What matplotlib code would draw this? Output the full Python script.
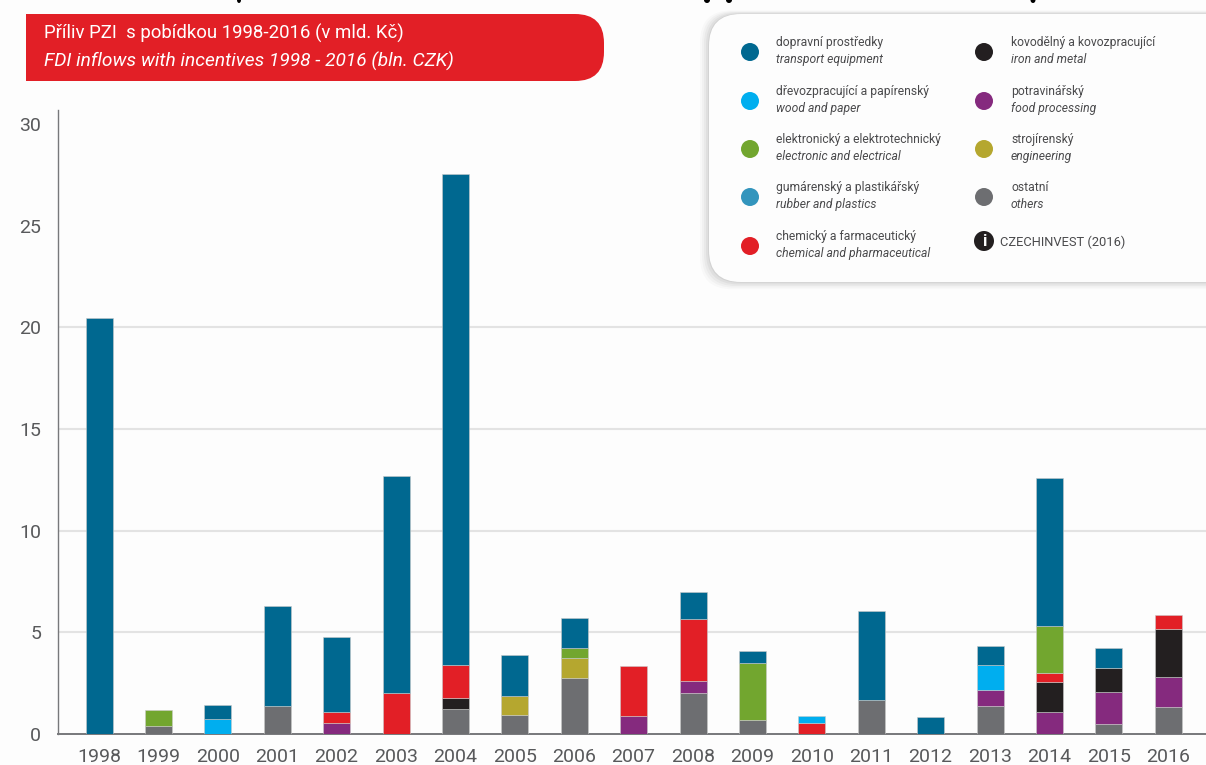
import matplotlib
matplotlib.use('Agg')
import numpy as np
import matplotlib.pyplot as plt
from matplotlib.patches import FancyBboxPatch, Circle, Rectangle, Ellipse

plt.rcParams['font.family'] = ['Roboto', 'DejaVu Sans']

W, H = 1206, 765

years = list(range(1998, 2017))

# mld. Kc per year, one list per sector
others    = [0, 0.40, 0, 1.37, 0, 0, 1.23, 0.93, 2.73, 0, 2.04, 0.70, 0, 1.67, 0, 1.39, 0, 0.51, 1.32]
food      = [0, 0, 0, 0, 0.55, 0, 0, 0, 0, 0.87, 0.56, 0, 0, 0, 0, 0.78, 1.08, 1.55, 1.47]
iron      = [0, 0, 0, 0, 0, 0, 0.55, 0, 0, 0, 0, 0, 0, 0, 0, 0, 1.50, 1.21, 2.36]
engineer  = [0, 0, 0, 0, 0, 0, 0, 0.92, 1.00, 0, 0, 0, 0, 0, 0, 0, 0, 0, 0]
chemical  = [0, 0, 0, 0, 0.51, 2.03, 1.62, 0, 0, 2.49, 3.04, 0, 0.54, 0, 0, 0, 0.42, 0, 0.70]
wood      = [0, 0, 0.75, 0, 0, 0, 0, 0, 0, 0, 0, 0, 0.36, 0, 0, 1.21, 0, 0, 0]
electro   = [0, 0.76, 0, 0, 0, 0, 0, 0, 0.52, 0, 0, 2.80, 0, 0, 0, 0, 2.32, 0, 0]
transport = [20.46, 0, 0.67, 4.93, 3.69, 10.67, 24.15, 2.02, 1.46, 0, 1.34, 0.60, 0, 4.38, 0.84, 0.97, 7.28, 0.96, 0]

stack = [others, food, iron, engineer, chemical, wood, electro, transport]
stack_colors = ['#6d6e71', '#852a7e', '#231f20', '#b5a72f', '#e21f26', '#00aeef', '#72a62f', '#006890']
grid_levels = [5, 10, 15, 20]

legend_left = [('dopravní prostředky', 'transport equipment', '#006890'),
               ('dřevozpracující a papírenský', 'wood and paper', '#00aeef'),
               ('elektronický a elektrotechnický', 'electronic and electrical', '#72a62f'),
               ('gumárenský a plastikářský', 'rubber and plastics', '#3395bd'),
               ('chemický a farmaceutický', 'chemical and pharmaceutical', '#e21f26')]
legend_right = [('kovodělný a kovozpracující', 'iron and metal', '#231f20'),
                ('potravinářský', 'food processing', '#852a7e'),
                ('strojírenský', 'engineering', '#b5a72f'),
                ('ostatní', 'others', '#6d6e71')]

fig = plt.figure(figsize=(W / 100, H / 100), dpi=100, facecolor='#fdfdfd')

# full-figure overlay in pixel coordinates, y pointing down
bg = fig.add_axes([0, 0, 1, 1], zorder=2)
bg.set_xlim(0, W)
bg.set_ylim(H, 0)
bg.axis('off')
bg.patch.set_alpha(0)

# chart axes: x=58..1206 px, y=734 (0) up to 110 px
ax = fig.add_axes([58 / W, 1 - 734 / H, (W - 58) / W, 624 / H], zorder=1)
ax.set_facecolor('none')
px_per_unit = 20.33
ax.set_ylim(0, 624 / px_per_unit)
slot = 59.4
ax.set_xlim((58 - 99) / slot, (W - 99) / slot)

x = np.arange(len(years))
bottom = np.zeros(len(years))
for vals, col in zip(stack, stack_colors):
    vals = np.array(vals)
    keep = vals > 0
    ax.bar(x[keep], vals[keep], bottom=bottom[keep], width=27 / slot, color=col,
           edgecolor='#c9c9c9', linewidth=0.4, zorder=3)
    bottom += vals

ax.set_yticks([0, 5, 10, 15, 20, 25, 30])
ax.set_xticks(x)
ax.set_xticklabels(years)
# the rules stop at 20, nothing is drawn at 25 and 30
ax.hlines(grid_levels, ax.get_xlim()[0], ax.get_xlim()[1], color='#e3e3e3', linewidth=1.5, zorder=0)
ax.tick_params(length=0, labelsize=14, labelcolor='#58595b')
ax.tick_params(axis='x', pad=10)
ax.tick_params(axis='y', pad=12)
for s in ['top', 'right']:
    ax.spines[s].set_visible(False)
ax.spines['left'].set_color('#77787b')
ax.spines['bottom'].set_color('#77787b')
ax.spines['left'].set_linewidth(1.0)
ax.spines['bottom'].set_linewidth(1.4)

# small black ends of a heading that runs off the top edge
for cx, cw in zip([239, 707, 729, 1033], [4, 6, 6, 5]):
    bg.add_patch(Ellipse((cx, 0), cw, 6, fc='black', ec='none', zorder=3))

# red title banner, square on the left, round on the right
bg.add_patch(FancyBboxPatch((0, 14), 604, 67, boxstyle='round,pad=0,rounding_size=29',
                            fc='#e21f26', ec='none', zorder=1))
bg.add_patch(Rectangle((26, 14), 60, 67, fc='#e21f26', ec='none', zorder=1))
bg.add_patch(Rectangle((0, 5), 26, 95, fc='#fdfdfd', ec='none', zorder=2))
bg.text(44, 33, 'Příliv PZI  s pobídkou 1998-2016 (v mld. Kč)', color='white', fontsize=13.4,
        va='center', zorder=3)
bg.text(44, 61, 'FDI inflows with incentives 1998 - 2016 (bln. CZK)', color='white', fontsize=13.8,
        style='italic', va='center', zorder=3)

# soft shadow under the legend panel
for i, a in zip([9, 7, 5, 3, 1], [0.04, 0.05, 0.07, 0.09, 0.12]):
    bg.add_patch(FancyBboxPatch((709 - i, 14 - i * 0.4), 620 + i * 2, 268 + i * 1.2,
                                boxstyle='round,pad=0,rounding_size=32',
                                fc='#808080', ec='none', alpha=a, zorder=4))
bg.add_patch(FancyBboxPatch((709, 14), 620, 268, boxstyle='round,pad=0,rounding_size=32',
                            fc='#fdfdfd', ec='none', zorder=5))

rows = [52, 101, 149, 197, 246]
for (cz, en, col), y in zip(legend_left, rows):
    bg.add_patch(Circle((750, y), 9, fc=col, ec='none', zorder=6))
    bg.text(776, y - 10, cz, fontsize=8.7, color='#4a4a4c', va='center', zorder=6)
    bg.text(776, y + 7, en, fontsize=8.7, color='#4a4a4c', style='italic', va='center', zorder=6)
for (cz, en, col), y in zip(legend_right, rows):
    bg.add_patch(Circle((984, y), 9, fc=col, ec='none', zorder=6))
    bg.text(1011, y - 10, cz, fontsize=8.7, color='#4a4a4c', va='center', zorder=6)
    bg.text(1011, y + 7, en, fontsize=8.7, color='#4a4a4c', style='italic', va='center', zorder=6)

# source line with the info badge
bg.add_patch(Circle((984, 241), 10, fc='#231f20', ec='none', zorder=6))
bg.text(984, 241, 'i', color='white', fontsize=12, fontweight='bold', ha='center', va='center', zorder=7)
bg.text(1000.5, 242, 'CZECHINVEST (2016)', fontsize=9.3, color='#4a4a4c', va='center', zorder=6)

fig.savefig('out.png', dpi=100, facecolor=fig.get_facecolor())
